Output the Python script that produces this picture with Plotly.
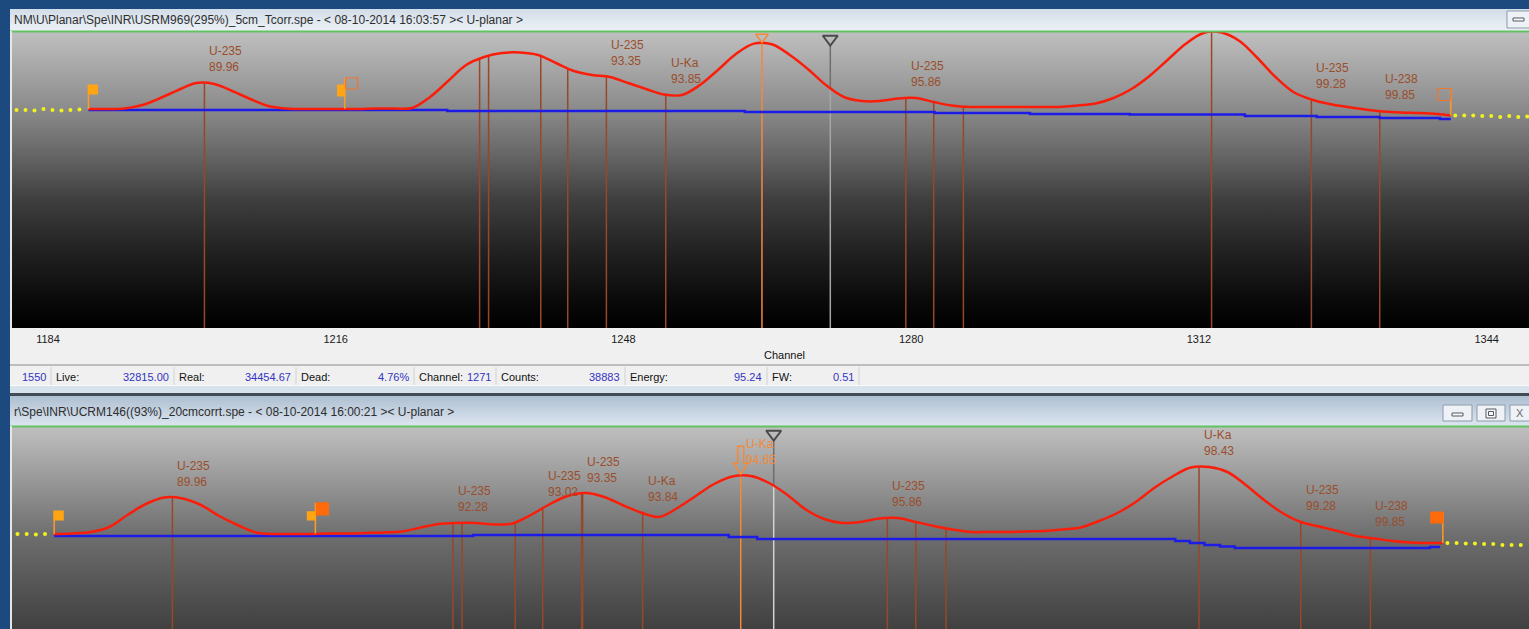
import base64
import numpy as np
import plotly.graph_objects as go

# ---------------- data ----------------
# channel grid of the sampled spectrum points (ROI 1188.5 .. 1340)
channels = list(np.arange(1188.5, 1339.0, 2.0)) + [1340.0]

top_counts = [35806, 35806, 35888, 36460, 37605, 38913, 40058, 39894, 38750, 37442,
              36297, 35888, 35806, 35806, 35806, 35806, 35888, 35888, 35970, 37769,
              40385, 43001, 44309, 44963, 45044, 44636, 43328, 42020, 41366, 41039,
              40058, 39077, 38177, 38096, 39731, 42183, 44799, 46500, 46400, 44636,
              42347, 39731, 37769, 37115, 37115, 37523, 37605, 36951, 36379, 36134,
              36134, 36134, 36134, 36134, 36134, 36379, 36706, 37605, 39077, 41202,
              43818, 46434, 48233, 48314, 46925, 44145, 41039, 38586, 37360, 36624,
              36134, 35725, 35398, 35234, 35153, 34989, 34744]

bottom_counts = [30902, 30983, 31229, 32046, 34008, 35807, 36869, 36706, 35643, 33845,
                 32373, 31147, 30902, 30902, 30902, 30983, 30983, 31065, 31147, 31310,
                 31964, 32537, 32700, 32700, 32455, 32618, 34008, 35725, 37115, 37605,
                 36951, 35643, 34417, 33681, 35153, 37115, 39077, 40303, 40385, 39240,
                 37278, 34907, 33354, 32700, 32864, 33436, 33518, 32864, 32210, 31637,
                 31229, 31229, 31229, 31310, 31392, 31637, 31964, 33027, 34335, 36134,
                 38423, 40303, 41774, 41856, 41039, 38913, 36461, 34335, 32864, 32128,
                 31392, 30575, 30166, 29757, 29512, 29430, 29430]

# continuum (blue step baseline)
base_top_ch = [1188.5, 1228.4, 1261.5, 1282.6, 1293.2, 1304.3, 1317.1, 1325.1, 1332.1, 1338.8, 1340.0]
base_top_counts = [35643, 35480, 35316, 35153, 34989, 34907, 34662, 34499, 34335, 34172, 34172]
base_bot_ch = [1188.5, 1234.2, 1262.1, 1265.2, 1310.8, 1312.4, 1314.0, 1315.7, 1317.3, 1338.6, 1339.7]
base_bot_counts = [30575, 30738, 30411, 30084, 29757, 29430, 29103, 28858, 28613, 28776, 28776]

# channels outside the ROI (yellow dots)
top_left_ch = [1180.5, 1181.5, 1182.5, 1183.5, 1184.5, 1185.5, 1186.5, 1187.5]
top_left_counts = [35643, 35643, 35561, 35806, 35643, 35561, 35643, 35725]
top_right_ch = [1340.5, 1341.5, 1342.5, 1343.5, 1344.5, 1345.5, 1346.5, 1347.5, 1348.5]
top_right_counts = [34744, 34744, 34744, 34662, 34662, 34499, 34662, 34499, 34580]
bot_left_ch = [1184.5, 1185.5, 1186.5, 1187.5]
bot_left_counts = [30902, 30902, 30820, 30902]
bot_right_ch = [1340.5, 1341.5, 1342.5, 1343.5, 1344.5, 1345.5, 1346.5, 1347.5, 1348.5]
bot_right_counts = [29430, 29430, 29348, 29348, 29267, 29267, 29103, 29103, 29103]

# identified peaks (channel)
peak_channels = [1201.4, 1232.0, 1233.0, 1238.8, 1241.8, 1246.1, 1252.7, 1263.4,
                 1279.4, 1282.5, 1285.8, 1313.4, 1324.5, 1332.1]
selected_peak = 1263.4
bold_peak_bottom = 1246.1
cursor_top = 1271
cursor_bottom = 1267.0
roi_bounds = [1188.5, 1217.0, 1340.0]

top_label_ch = [1201.4, 1246.1, 1252.7, 1279.4, 1324.5, 1332.1]
top_label_nuc = ["U-235", "U-235", "U-Ka", "U-235", "U-235", "U-238"]
top_label_energy = ["89.96", "93.35", "93.85", "95.86", "99.28", "99.85"]

bot_label_ch = [1201.4, 1232.0, 1241.8, 1246.1, 1252.7, 1263.4, 1279.4, 1313.4, 1324.5, 1332.1]
bot_label_nuc = ["U-235", "U-235", "U-235", "U-235", "U-Ka", "U-Ka", "U-235", "U-Ka", "U-235", "U-238"]
bot_label_energy = ["89.96", "92.28", "93.02", "93.35", "93.84", "94.65", "95.86", "98.43", "99.28", "99.85"]

axis_ticks = [1184, 1216, 1248, 1280, 1312, 1344]

status_labels = ["", "Live:", "Real:", "Dead:", "Channel:", "Counts:", "Energy:", "FW:"]
status_values = ["1550", "32815.00", "34454.67", "4.76%", "1271", "38883", "95.24", "0.51"]

top_title = r"NM\U\Planar\Spe\INR\USRM969(295%)_5cm_Tcorr.spe - &lt; 08-10-2014 16:03:57 &gt;&lt; U-planar &gt;"
bot_title = r"r\Spe\INR\UCRM146((93%)_20cmcorrt.spe - &lt; 08-10-2014 16:00:21 &gt;&lt; U-planar &gt;"

# ---------------- layout helpers ----------------
W, H = 1529, 629
FONT = "Liberation Sans, Arial, sans-serif"
CPP = 163.5                       # counts per screen pixel
top_range = [0, 297 * CPP]
bot_range = [(723 - 629) * CPP, 297 * CPP]
BROWN = "#96482a"
LABEL = "#9a4e2c"
ORANGE = "#f28a3a"
RED = "#fa1e0a"
BLUE = "#1c1ce6"


def px(x):
    return x / W


def py(y):
    return 1 - y / H


def grad_uri(stops):
    s = "".join(f'<stop offset="{o}" stop-color="{c}"/>' for o, c in stops)
    svg = ('<svg xmlns="http://www.w3.org/2000/svg" width="100" height="100" viewBox="0 0 100 100" '
           'preserveAspectRatio="none"><defs><linearGradient id="g" x1="0" y1="0" x2="0" y2="1">'
           f'{s}</linearGradient></defs><rect x="0" y="0" width="100" height="100" fill="url(#g)"/></svg>')
    return "data:image/svg+xml;base64," + base64.b64encode(svg.encode()).decode()


def img(x0, y0, x1, y1, stops):
    return dict(source=grad_uri(stops), xref="paper", yref="paper", x=px(x0), y=py(y0),
                sizex=(x1 - x0) / W, sizey=(y1 - y0) / H, xanchor="left", yanchor="top",
                sizing="stretch", layer="below")


def prect(x0, y0, x1, y1, fill, line=None, lw=1, layer="below"):
    return dict(type="rect", xref="paper", yref="paper", x0=px(x0), x1=px(x1), y0=py(y1), y1=py(y0),
                fillcolor=fill, line=dict(color=line or "rgba(0,0,0,0)", width=lw if line else 0),
                layer=layer)


def pline(x0, y0, x1, y1, color, width, layer="below"):
    return dict(type="line", xref="paper", yref="paper", x0=px(x0), x1=px(x1), y0=py(y0), y1=py(y1),
                line=dict(color=color, width=width), layer=layer)


fig = go.Figure()

# ---------------- spectrum panels ----------------
def add_panel(xr, yr, counts, base_ch, base_counts, rng, left_ch, left_c, right_ch, right_c,
              cursor, cursor_low_color, bold_peak=None):
    ymin, ymax = rng
    tops = np.interp(peak_channels, channels, counts)
    # peak markers
    for style in ("normal", "bold", "sel"):
        xs, ys = [], []
        for c, t in zip(peak_channels, tops):
            kind = "sel" if c == selected_peak else ("bold" if c == bold_peak else "normal")
            if kind == style:
                xs += [c, c, None]
                ys += [ymin, t, None]
        if xs:
            color = ORANGE if style == "sel" else BROWN
            width = 2.5 if style == "bold" else 1.5
            fig.add_trace(go.Scatter(x=xs, y=ys, mode="lines", xaxis=xr, yaxis=yr,
                                     line=dict(color=color, width=width), hoverinfo="skip"))
    # cursor
    ct = float(np.interp(cursor, channels, counts))
    fig.add_trace(go.Scatter(x=[cursor, cursor], y=[ymin, ct], mode="lines", xaxis=xr, yaxis=yr,
                             line=dict(color=cursor_low_color, width=1.5), hoverinfo="skip"))
    fig.add_trace(go.Scatter(x=[cursor, cursor], y=[ct, ymax - 14 * CPP], mode="lines", xaxis=xr, yaxis=yr,
                             line=dict(color="#6e6e6e", width=1.5), hoverinfo="skip"))
    fig.add_trace(go.Scatter(x=[cursor], y=[ymax - 8 * CPP], mode="markers", xaxis=xr, yaxis=yr,
                             cliponaxis=False,
                             marker=dict(symbol="triangle-down-open", size=13, color="#4a4a4a",
                                         line=dict(width=2, color="#4a4a4a")), hoverinfo="skip"))
    # continuum
    fig.add_trace(go.Scatter(x=base_ch, y=base_counts, mode="lines", xaxis=xr, yaxis=yr,
                             line=dict(color=BLUE, width=2.5, shape="hv"), hoverinfo="skip"))
    # spectrum fit
    fig.add_trace(go.Scatter(x=channels, y=counts, mode="lines", xaxis=xr, yaxis=yr,
                             line=dict(color=RED, width=2.5, shape="spline", smoothing=1.0),
                             hoverinfo="skip"))
    # outside ROI points
    fig.add_trace(go.Scatter(x=left_ch + right_ch, y=left_c + right_c, mode="markers", xaxis=xr, yaxis=yr,
                             marker=dict(color="#f4f21c", size=4), hoverinfo="skip"))


add_panel("x", "y", top_counts, base_top_ch, base_top_counts, top_range,
          top_left_ch, top_left_counts, top_right_ch, top_right_counts, cursor_top, "#a6a6a6")
add_panel("x2", "y2", bottom_counts, base_bot_ch, base_bot_counts, bot_range,
          bot_left_ch, bot_left_counts, bot_right_ch, bot_right_counts, cursor_bottom, "#d2d2d2",
          bold_peak=bold_peak_bottom)

# selected peak marker in the top panel (clipped arrow)
fig.add_trace(go.Scatter(x=[selected_peak], y=[top_range[1] - 6 * CPP], mode="markers", xaxis="x", yaxis="y",
                         cliponaxis=False,
                         marker=dict(symbol="triangle-down-open", size=11, color=ORANGE,
                                     line=dict(width=1.5, color=ORANGE)), hoverinfo="skip"))

shapes = []
annotations = []

# selected peak arrow in the bottom panel
sel_b = float(np.interp(selected_peak, channels, bottom_counts))
shapes.append(dict(type="path", xref="x2", yref="y2", xsizemode="pixel", ysizemode="pixel",
                   xanchor=selected_peak, yanchor=sel_b,
                   path="M -7,13 L 0,2 L 7,13 L 3,13 L 3,30 L -3,30 L -3,13 Z",
                   line=dict(color=ORANGE, width=1.5), fillcolor="rgba(0,0,0,0)", layer="above"))


# ROI flags
def flag(xr, yr, ch, counts, pole, rects):
    yv = float(np.interp(ch, channels, counts))
    out = [dict(type="line", xref=xr, yref=yr, xsizemode="pixel", ysizemode="pixel",
                xanchor=ch, yanchor=yv, x0=0, x1=0, y0=0, y1=pole,
                line=dict(color="#ff9a22", width=1.5), layer="above")]
    for (a, b, c, d, fill, line) in rects:
        out.append(dict(type="rect", xref=xr, yref=yr, xsizemode="pixel", ysizemode="pixel",
                        xanchor=ch, yanchor=yv, x0=a, x1=b, y0=c, y1=d,
                        fillcolor=fill, line=dict(color=line, width=1.2), layer="above"))
    return out


shapes += flag("x", "y", roi_bounds[0], top_counts, 24, [(0, 9, 15, 24, "#ffa514", "#ffa514")])
shapes += flag("x", "y", roi_bounds[1], top_counts, 31, [(-7, 0, 13, 24, "#ffa514", "#ffa514"),
                                                         (1, 13, 20, 31, "rgba(0,0,0,0)", "#f0762e")])
shapes += flag("x", "y", roi_bounds[2], top_counts, 27, [(-13, 0, 15, 27, "rgba(0,0,0,0)", "#f0762e")])
shapes += flag("x2", "y2", roi_bounds[0], bottom_counts, 23, [(0, 9, 14, 23, "#ffa514", "#ffa514")])
shapes += flag("x2", "y2", roi_bounds[1], bottom_counts, 31, [(-8, 0, 14, 22, "#ffa514", "#ffa514"),
                                                              (1, 13, 19, 31, "#ff6a0a", "#ff6a0a")])
shapes += flag("x2", "y2", roi_bounds[2], bottom_counts, 31, [(-12, 0, 20, 31, "#ff6a0a", "#ff6a0a")])

# peak labels
for xr, yr, chs, nucs, ens, counts in (("x", "y", top_label_ch, top_label_nuc, top_label_energy, top_counts),
                                       ("x2", "y2", bot_label_ch, bot_label_nuc, bot_label_energy, bottom_counts)):
    for c, n, e in zip(chs, nucs, ens):
        yv = float(np.interp(c, channels, counts))
        annotations.append(dict(x=c, y=yv, xref=xr, yref=yr, text=f"{n}<br>{e}", showarrow=False,
                                xanchor="left", yanchor="bottom", xshift=3, yshift=7, align="left",
                                font=dict(family=FONT, size=12,
                                          color=ORANGE if c == selected_peak and xr == "x2" else LABEL)))

# ---------------- window chrome ----------------
images = [
    img(10, 9, 1529, 31, [(0, "#d2dde8"), (1, "#ecf1f6")]),
    img(12, 31, 1529, 328, [(0, "#c0c0c0"), (0.266, "#8a8a8a"), (0.40, "#6a6a6a"), (0.57, "#3e3e3e"),
                            (0.737, "#222222"), (0.906, "#0a0a0a"), (1, "#000000")]),
    img(10, 396, 1529, 426, [(0, "#aebfd1"), (1, "#dce6f0")]),
    img(12, 426, 1529, 629, [(0, "#c0c0c0"), (0.3, "#939393"), (0.54, "#6e6e6e"), (1, "#404040")]),
]

shapes += [
    prect(10, 328, 1529, 364, "#f0f0f0"),
    prect(10, 364, 1529, 366, "#bdbdbd"),
    prect(10, 366, 1529, 385, "#f0f0f0"),
    prect(10, 385, 1529, 386, "#fbfbfb"),
    prect(10, 386, 1529, 393, "#d8e2ed"),
    prect(10, 393, 1529, 396, "#434b55"),
    pline(10, 31.5, 1529, 31.5, "#62c262", 2, layer="above"),
    pline(10, 426.5, 1529, 426.5, "#62c262", 2, layer="above"),
    prect(10, 31, 12, 328, "#e6e6e6", layer="above"),
    prect(10, 426, 12, 629, "#e6e6e6", layer="above"),
    # window buttons
    prect(1507, 11, 1540, 28, "#eef2f6", "#8d9bab"),
    prect(1513, 18, 1524, 21, "#f8f8f8", "#505a66"),
    prect(1443, 405, 1472, 421, "#eef2f6", "#8d9bab"),
    prect(1452, 413, 1463, 416, "#f8f8f8", "#505a66"),
    prect(1477, 405, 1505, 421, "#eef2f6", "#8d9bab"),
    prect(1486, 409, 1496, 418, "#f8f8f8", "#505a66"),
    prect(1488.5, 411.5, 1493.5, 415.5, "#f8f8f8", "#505a66"),
    prect(1510, 405, 1545, 421, "#eef2f6", "#8d9bab"),
]

# status bar
value_ends = [48, 171, 293, 411, 493, 622, 764, 856]
for lab, val, ve, i in zip(status_labels, status_values, value_ends, range(len(value_ends))):
    annotations.append(dict(x=px(ve), y=py(377), xref="paper", yref="paper", text=val, showarrow=False,
                            xanchor="right", yanchor="middle", font=dict(family=FONT, size=11, color="#3434c4")))
    shapes.append(pline(ve + 3, 367, ve + 3, 385, "#d2d2d2", 1, layer="above"))
    if lab:
        prev = value_ends[i - 1]
        annotations.append(dict(x=px(prev + 6), y=py(377), xref="paper", yref="paper", text=lab,
                                showarrow=False, xanchor="left", yanchor="middle",
                                font=dict(family=FONT, size=11, color="#111111")))

annotations += [
    dict(x=px(12), y=py(20), xref="paper", yref="paper", text=top_title, showarrow=False,
         xanchor="left", yanchor="middle", font=dict(family=FONT, size=12, color="#2e2e2e")),
    dict(x=px(12), y=py(412), xref="paper", yref="paper", text=bot_title, showarrow=False,
         xanchor="left", yanchor="middle", font=dict(family=FONT, size=12, color="#2e2e2e")),
    dict(x=px(784), y=py(355), xref="paper", yref="paper", text="Channel", showarrow=False,
         xanchor="center", yanchor="middle", font=dict(family=FONT, size=11, color="#111111")),
    dict(x=px(1520), y=py(413), xref="paper", yref="paper", text="X", showarrow=False,
         xanchor="center", yanchor="middle", font=dict(family=FONT, size=11, color="#6a6a6a")),
]

fig.update_layout(
    width=W, height=H, margin=dict(l=0, r=0, t=0, b=0),
    paper_bgcolor="#1d4a7e", plot_bgcolor="rgba(0,0,0,0)", showlegend=False, hovermode=False,
    font=dict(family=FONT, size=11, color="#111111"),
    xaxis=dict(domain=[px(12), 1], range=[1180.0, 1348.7], tickvals=axis_ticks,
               ticktext=[str(t) for t in axis_ticks], showgrid=False, zeroline=False, showline=False,
               ticks="", ticklabelstandoff=3, tickfont=dict(family=FONT, size=11, color="#1a1a1a"),
               anchor="y", fixedrange=True),
    yaxis=dict(domain=[py(328), py(31)], range=top_range, visible=False, fixedrange=True),
    xaxis2=dict(domain=[px(12), 1], range=[1183.9, 1349.4], visible=False, anchor="y2", fixedrange=True),
    yaxis2=dict(domain=[0, py(426)], range=bot_range, visible=False, anchor="x2", fixedrange=True),
    images=images, shapes=shapes, annotations=annotations,
)

fig.write_html("out.html", config={"displayModeBar": False},
               post_script="document.body.style.margin='0';document.body.style.overflow='hidden';")
